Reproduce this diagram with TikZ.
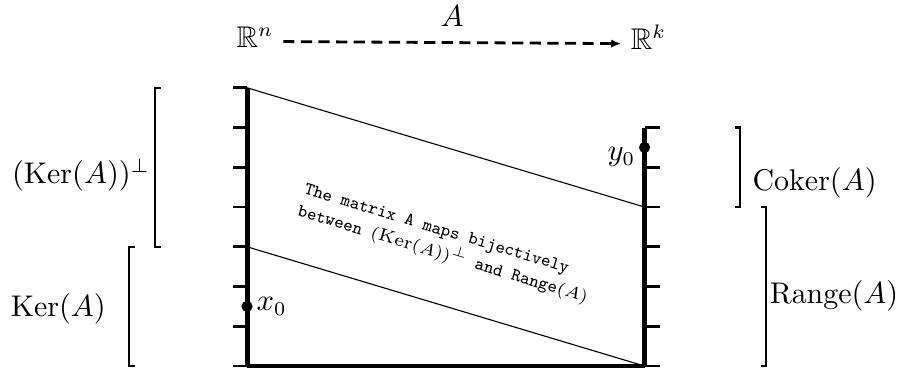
\documentclass[tikz,border=0pt]{standalone}
\usepackage{amsmath, amssymb}
\usepackage{fontspec}
\usepackage{tikz}
\usetikzlibrary{arrows.meta, positioning}

\begin{document}
\begin{tikzpicture}[
    x=0.5cm, y=0.5cm,
    every node/.style={font=\fontsize{10.7}{13}\selectfont},
    axisline/.style={line width=1.8pt},
    tickline/.style={line width=1pt},
    bracket/.style={line width=0.8pt},
    slant/.style={line width=0.4pt},
    dot/.style={circle, fill=black, inner sep=0pt, minimum size=4pt},
    arrow/.style={-{Latex[length=3.5pt, width=3pt]}, line width=1pt,
                  dash pattern=on 4pt off 2.3pt},
  ]
    \useasboundingbox (-6.214,-0.176) rectangle (16.45,9.208);

    % The map A
    \node (rn) at (0.2,8.27) {$\mathbb{R}^n$};
    \node (rk) at (10.1,8.27) {$\mathbb{R}^k$};
    \draw[arrow] (rn.mid east) -- (rk.mid west)
      node[midway, above=2pt] (amap) {$A$};

    % Corners of the two spaces
    \coordinate (lbot) at (0,0);
    \coordinate (lmid) at (0,3);
    \coordinate (ltop) at (0,7);
    \coordinate (rbot) at (10,0);
    \coordinate (rmid) at (10,4);
    \coordinate (rtop) at (10,6);

    % Ticks
    \foreach \k in {0,...,7}
      \draw[tickline] (-0.35,\k) -- (0,\k);
    \foreach \k in {0,...,6}
      \draw[tickline] (10,\k) -- (10.38,\k);

    % Slanted lines and the two axes
    \draw[slant] (ltop) -- (rmid);
    \draw[slant] (lmid) -- (rbot);
    \draw[axisline] (lbot) -- (ltop);
    \draw[axisline] (rbot) -- (rtop);
    \draw[line width=1.2pt] (lbot) -- (rbot);

    % Brackets
    \draw[bracket] (-2.16,7) -- (-2.31,7) -- (-2.31,3) -- (-2.16,3);
    \draw[bracket] (-2.82,3) -- (-2.97,3) -- (-2.97,0) -- (-2.82,0);
    \draw[bracket] (12.27,6) -- (12.4,6) -- (12.4,4) -- (12.27,4);
    \draw[bracket] (12.92,4) -- (13.05,4) -- (13.05,0) -- (12.92,0);

    % Subspace labels
    \node[anchor=west] (kerperp) at (-6.16,4.8) {$(\mathrm{Ker}(A))^{\perp}$};
    \node[anchor=west] (ker) at (-6.19,1.43) {$\mathrm{Ker}(A)$};
    \node[anchor=west] (coker) at (12.47,4.6) {$\mathrm{Coker}(A)$};
    \node[anchor=west] (range) at (12.9,1.76) {$\mathrm{Range}(A)$};

    % Points
    \node[dot] (x0) at (0,1.5) {};
    \node[right=0pt of x0, inner sep=1pt] (x0lbl) {$x_0$};
    \node[dot] (y0) at (10,5.5) {};
    \node[left=0pt of y0, inner sep=1pt, yshift=-3.5pt] (y0lbl) {$y_0$};

    % Note between the lines
    \node[rotate=-16.7, align=left, inner sep=0pt,
          font={\fontsize{6.4}{8.2}\selectfont\ttfamily}] (note) at (5.0,3.05)
      {The matrix A maps bijectively\\between $(\mathrm{Ker}(A))^{\perp}$ and Range$(A)$};
  \end{tikzpicture}
\end{document}
